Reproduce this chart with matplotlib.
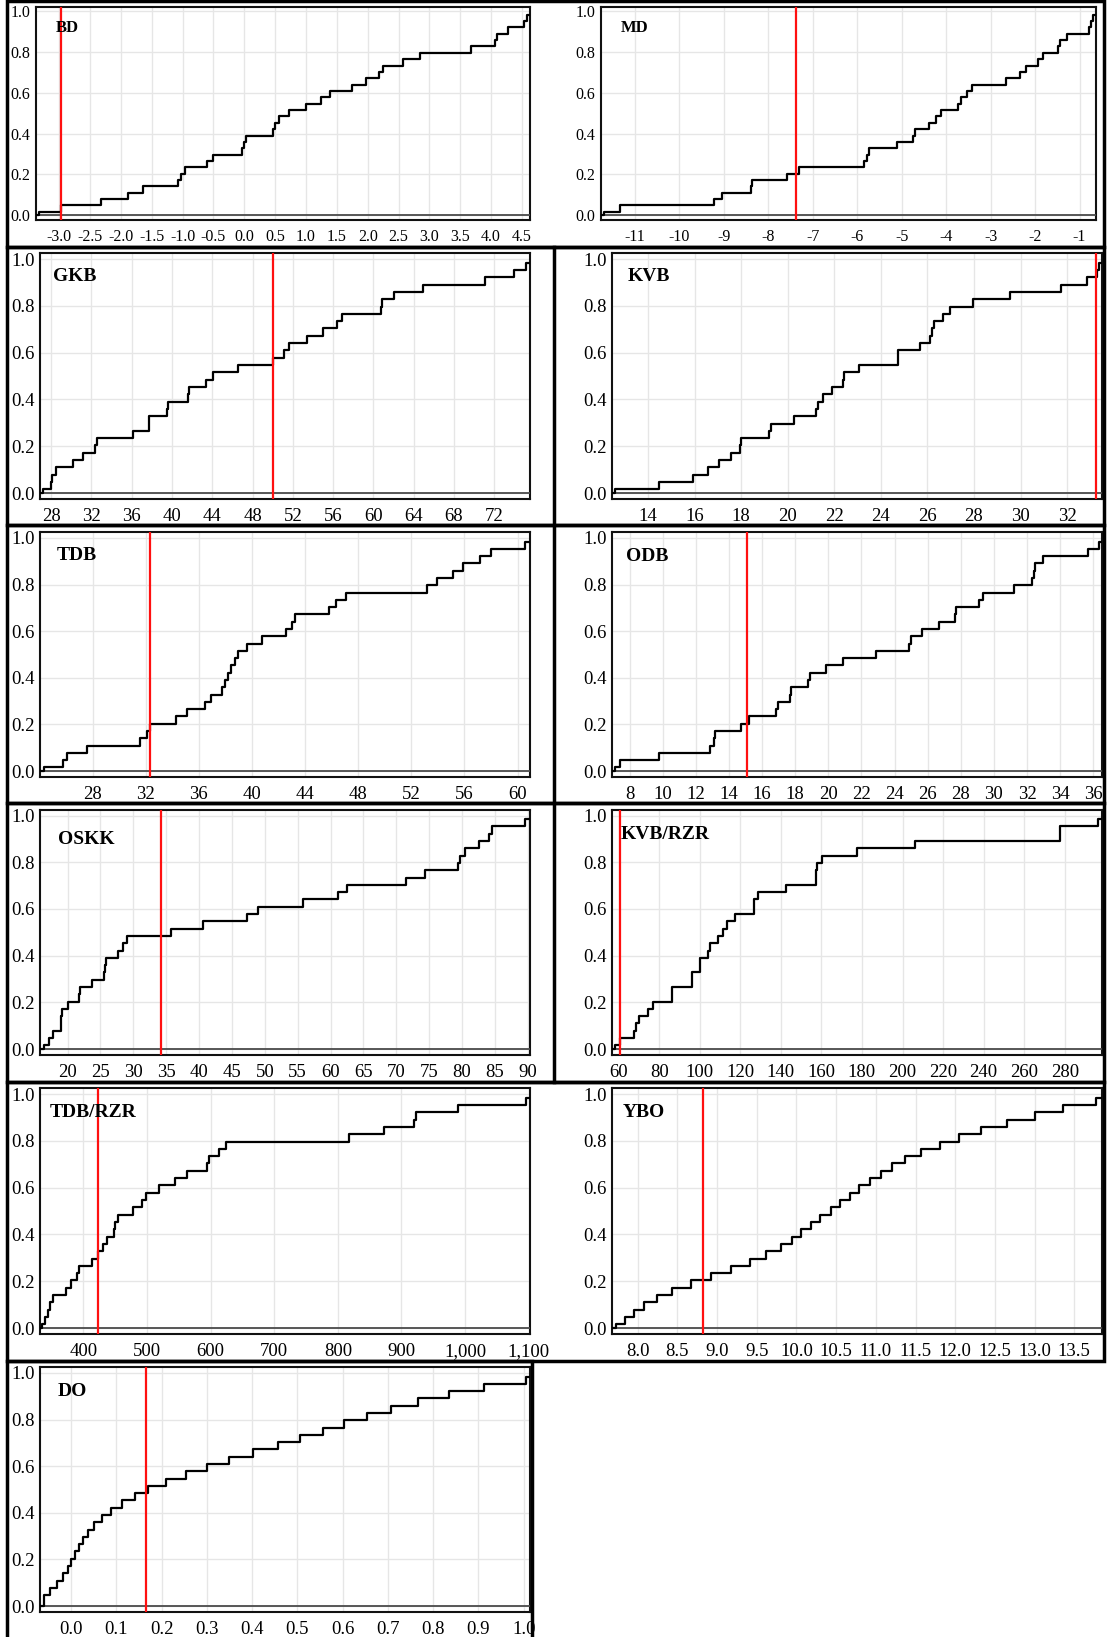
import numpy as np
import matplotlib
matplotlib.use("Agg")
import matplotlib.pyplot as plt
from matplotlib.patches import Rectangle
from matplotlib.lines import Line2D

plt.rcParams['font.family'] = ['Liberation Serif', 'DejaVu Serif']

# ---- data: sorted sample values (n = 32 per panel) ----
bd = [-3.33, -2.97, -2.32, -1.88, -1.64, -1.08, -1.02, -0.96, -0.61, -0.50, -0.03, 0.0,
      0.03, 0.46, 0.49, 0.57, 0.72, 1.0, 1.24, 1.39, 1.74, 1.98, 2.19, 2.24, 2.57, 2.84,
      3.68, 4.07, 4.10, 4.27, 4.54, 4.58]
md = [-11.70, -11.33, -9.23, -9.03, -8.39, -8.36, -7.57, -7.31, -5.84, -5.78, -5.73, -5.10,
      -4.75, -4.70, -4.39, -4.23, -4.12, -3.73, -3.67, -3.53, -3.41, -2.66, -2.35, -2.20,
      -1.94, -1.83, -1.48, -1.44, -1.28, -0.78, -0.74, -0.70]
gkb = [27.2, 28.0, 28.05, 28.5, 30.2, 31.2, 32.4, 32.6, 36.1, 37.7, 37.75, 39.5, 39.6, 41.6,
       41.7, 43.4, 44.1, 46.6, 50.0, 51.1, 51.6, 53.4, 55.0, 56.4, 56.9, 60.8, 60.9, 62.0,
       64.9, 71.1, 74.0, 75.2]
kvb = [12.57, 14.46, 15.95, 16.59, 17.06, 17.55, 17.93, 18.0, 19.2, 19.3, 20.29, 21.23, 21.28,
       21.5, 21.88, 22.37, 22.42, 23.06, 24.72, 24.75, 25.69, 26.12, 26.18, 26.27, 26.68, 26.98,
       27.94, 29.54, 31.75, 32.84, 33.27, 33.35]
tdb = [24.36, 25.76, 26.06, 27.6, 31.56, 32.12, 32.31, 34.28, 35.14, 36.43, 36.89, 37.75, 37.97,
       38.18, 38.45, 38.69, 38.96, 39.66, 40.79, 42.6, 43.0, 43.25, 45.78, 46.32, 47.12, 53.18,
       53.94, 55.12, 55.9, 57.2, 58.0, 60.6]
odb = [7.14, 7.44, 9.76, 12.86, 13.1, 13.15, 14.73, 15.18, 16.85, 16.98, 17.68, 17.75, 18.75,
       18.9, 19.87, 20.9, 22.89, 24.9, 24.99, 25.63, 26.68, 27.64, 27.7, 29.08, 29.36, 31.22,
       32.31, 32.4, 32.46, 32.96, 35.68, 36.32]
oskk = [16.46, 17.17, 17.72, 18.98, 19.0, 19.2, 20.0, 21.74, 21.96, 23.7, 25.6, 25.77, 25.8,
        27.6, 28.43, 29.08, 35.77, 40.56, 47.3, 48.94, 55.79, 61.06, 62.53, 71.4, 74.39, 79.45,
        79.72, 80.37, 82.55, 84.07, 84.6, 89.62]
kvb_rzr = [58.25, 60.5, 67.5, 68.7, 70.1, 74.5, 76.8, 86.4, 86.5, 96.0, 96.4, 100.2, 100.3,
           104.2, 105.1, 109.0, 111.4, 113.3, 117.4, 126.5, 126.6, 128.7, 142.7, 157.1, 157.2,
           157.9, 160.2, 177.7, 206.0, 277.7, 277.8, 296.3]
tdb_rzr = [335, 340, 344, 348, 352, 373, 380, 390, 393, 413.5, 423.6, 431, 436.5, 449, 450.6,
           454.5, 478.7, 491.6, 497.8, 519.7, 544.4, 562.4, 595, 597.8, 613, 624.7, 816.9, 873,
           919, 923.6, 989.3, 1095]
ybo = [7.73, 7.835, 7.95, 8.076, 8.245, 8.43, 8.67, 8.92, 9.18, 9.41, 9.62, 9.80, 9.94, 10.06,
       10.18, 10.30, 10.43, 10.55, 10.67, 10.79, 10.93, 11.06, 11.20, 11.37, 11.565, 11.81,
       12.05, 12.33, 12.65, 13.0, 13.36, 13.78]
do = [-0.061, -0.061, -0.047, -0.031, -0.019, -0.008, 0.0, 0.008, 0.017, 0.026, 0.038, 0.051,
      0.068, 0.089, 0.113, 0.14, 0.17, 0.209, 0.253, 0.30, 0.349, 0.401, 0.456, 0.506, 0.557,
      0.603, 0.653, 0.707, 0.766, 0.834, 0.913, 1.006]

names = ["BD", "MD", "GKB", "KVB", "TDB", "ODB", "OSKK", "KVB/RZR", "TDB/RZR", "YBO", "DO"]
samples = [bd, md, gkb, kvb, tdb, odb, oskk, kvb_rzr, tdb_rzr, ybo, do]
ref_values = [-2.97, -7.37, 50.0, 33.25, 32.3, 15.11, 34.25, 60.5, 423, 8.82, 0.166]
x_ranges = [(-3.38, 4.63), (-11.76, -0.63), (26.9, 75.55), (12.45, 33.5), (24.04, 60.94),
            (6.93, 36.53), (15.81, 90.33), (56.7, 298.4), (332, 1102), (7.675, 13.85),
            (-0.069, 1.014)]
x_ticks = [
    [-3.0, -2.5, -2.0, -1.5, -1.0, -0.5, 0.0, 0.5, 1.0, 1.5, 2.0, 2.5, 3.0, 3.5, 4.0, 4.5],
    [-11, -10, -9, -8, -7, -6, -5, -4, -3, -2, -1],
    [28, 32, 36, 40, 44, 48, 52, 56, 60, 64, 68, 72],
    [14, 16, 18, 20, 22, 24, 26, 28, 30, 32],
    [28, 32, 36, 40, 44, 48, 52, 56, 60],
    [8, 10, 12, 14, 16, 18, 20, 22, 24, 26, 28, 30, 32, 34, 36],
    [20, 25, 30, 35, 40, 45, 50, 55, 60, 65, 70, 75, 80, 85, 90],
    [60, 80, 100, 120, 140, 160, 180, 200, 220, 240, 260, 280],
    [400, 500, 600, 700, 800, 900, 1000, 1100],
    [8.0, 8.5, 9.0, 9.5, 10.0, 10.5, 11.0, 11.5, 12.0, 12.5, 13.0, 13.5],
    [0.0, 0.1, 0.2, 0.3, 0.4, 0.5, 0.6, 0.7, 0.8, 0.9, 1.0],
]
x_fmt = ["{:.1f}", "{:.0f}", "{:.0f}", "{:.0f}", "{:.0f}", "{:.0f}", "{:.0f}", "{:.0f}",
         "{:,.0f}", "{:.1f}", "{:.1f}"]
y_ticks = [0.0, 0.2, 0.4, 0.6, 0.8, 1.0]

# ---- layout in pixels of the 1109x1637 figure ----
W, H = 1109, 1637
row_tb = [(6.6, 220.3), (253.4, 499.1), (532.4, 777.1), (809.9, 1055.1),
          (1088.4, 1334.1), (1367.4, 1612.1)]
col_lr = [[(35.7, 530), (601, 1096)]] + [[(40, 530), (612, 1102)]] * 5
title_dx = [0.04, 0.04, 0.027, 0.032, 0.035, 0.028, 0.037, 0.018, 0.02, 0.022, 0.037]
title_y = [0.9, 0.9, 0.905, 0.905, 0.905, 0.9, 0.88, 0.9, 0.9, 0.9, 0.9]

fig = plt.figure(figsize=(W / 100, H / 100), dpi=100)

for i, name in enumerate(names):
    r, c = divmod(i, 2)
    (l, rr), (t, b) = col_lr[r][c], row_tb[r]
    ax = fig.add_axes([l / W, 1 - b / H, (rr - l) / W, (b - t) / H])
    fs = 11.5 if r == 0 else 13.5

    xs = np.sort(np.array(samples[i], dtype=float))
    n = len(xs)
    ys = (np.arange(n) + 0.5) / n
    x0, x1 = x_ranges[i]
    ax.step(np.r_[x0, xs, x1], np.r_[0, ys, ys[-1]], where='post', color='black', lw=1.6,
            zorder=4)
    ax.axhline(0, color='#4a4a4a', lw=1.3, zorder=3)
    ax.axvline(ref_values[i], color='#ff1010', lw=1.6, zorder=5)

    ax.set_xlim(x0, x1)
    ax.set_ylim(-0.026, 1.024)
    ax.set_xticks(x_ticks[i])
    ax.set_xticklabels([x_fmt[i].format(v) for v in x_ticks[i]])
    ax.set_yticks(y_ticks)
    ax.set_yticklabels(["{:.1f}".format(v) for v in y_ticks])
    ax.grid(True, color='#e6e6e6', lw=1.0, zorder=0)
    ax.tick_params(axis='y', length=0, labelsize=fs, pad=4)
    ax.tick_params(axis='x', length=0, labelsize=fs, pad=6.5)
    for s in ax.spines.values():
        s.set_color('#111111')
        s.set_linewidth(1.5)
    ax.text(title_dx[i], title_y[i], name, transform=ax.transAxes, fontsize=fs + 0.5,
            fontweight='bold', ha='left', va='center', zorder=6)

# panel frames
frames = [(7, 1, 1104, 247), (7, 247, 1104, 525), (7, 525, 1104, 803),
          (7, 803, 1104, 1082), (7, 1082, 1104, 1361), (7, 1361, 532, 1645)]
for (x0, y0, x1, y1) in frames:
    fig.patches.append(Rectangle((x0 / W, 1 - y1 / H), (x1 - x0) / W, (y1 - y0) / H,
                                 transform=fig.transFigure, fill=False, lw=2.5,
                                 edgecolor='black', zorder=10))
# divider between the two columns in rows 2-4
fig.lines.append(Line2D([554 / W, 554 / W], [1 - 247 / H, 1 - 1082 / H],
                        transform=fig.transFigure, color='black', lw=2.5))

fig.savefig("out.png", dpi=100)
